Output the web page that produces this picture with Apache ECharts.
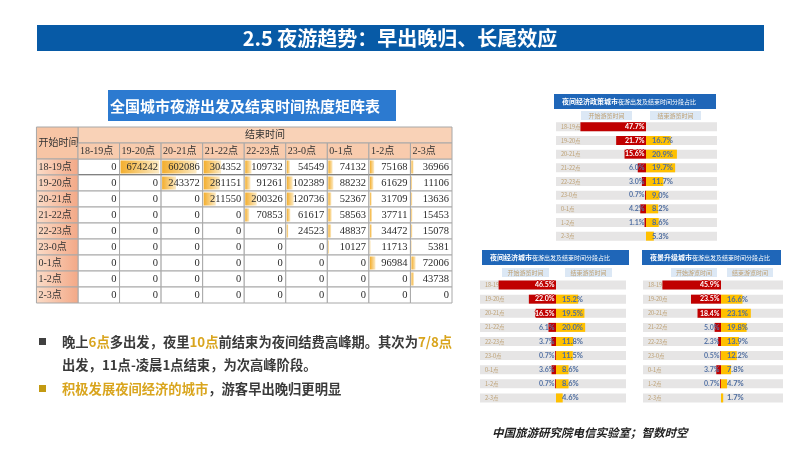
<!DOCTYPE html>
<html>
<head>
<meta charset="utf-8">
<script src="https://cdn.jsdelivr.net/npm/echarts@6/dist/echarts.min.js"></script>
<style>
html, body { margin: 0; padding: 0; background: #fff; }
#main { width: 800px; height: 450px; }
</style>
</head>
<body>
<div id="main"></div>
<script>
// 热度矩阵：开始时间 x 结束时间
var startTimes = ['18-19点', '19-20点', '20-21点', '21-22点', '22-23点', '23-0点', '0-1点', '1-2点', '2-3点'];
var endTimes = ['18-19点', '19-20点', '20-21点', '21-22点', '22-23点', '23-0点', '0-1点', '1-2点', '2-3点'];
var heat = [
    [0, 674242, 602086, 304352, 109732, 54549, 74132, 75168, 36966],
    [0, 0, 243372, 281151, 91261, 102389, 88232, 61629, 11106],
    [0, 0, 0, 211550, 200326, 120736, 52367, 31709, 13636],
    [0, 0, 0, 0, 70853, 61617, 58563, 37711, 15453],
    [0, 0, 0, 0, 0, 24523, 48837, 34472, 15078],
    [0, 0, 0, 0, 0, 0, 10127, 11713, 5381],
    [0, 0, 0, 0, 0, 0, 0, 96984, 72006],
    [0, 0, 0, 0, 0, 0, 0, 0, 43738],
    [0, 0, 0, 0, 0, 0, 0, 0, 0]
];

// 右侧三个分段占比图 (%)
var policyStart = [47.7, 21.7, 15.6, 6.0, 3.0, 0.7, 4.2, 1.1, null];
var policyEnd = [null, 16.7, 20.9, 19.7, 11.7, 9.0, 8.2, 8.6, 5.3];
var economyStart = [46.5, 22.0, 16.5, 6.1, 3.7, 0.7, 3.6, 0.7, null];
var economyEnd = [null, 15.2, 19.5, 20.0, 11.8, 11.5, 8.6, 8.6, 4.6];
var upgradeStart = [45.9, 23.5, 18.4, 5.0, 2.3, 0.5, 3.7, 0.7, null];
var upgradeEnd = [null, 16.6, 23.1, 19.8, 13.9, 12.2, 7.8, 4.7, 1.7];
var panelNames = [
    ['夜间经济政策城市', '夜游出发及结束时间分段占比'],
    ['夜间经济城市', '夜游出发及结束时间分段占比'],
    ['夜景升级城市', '夜游出发及结束时间分段占比']
];
var legendNames = ['开始游览时间', '结束游览时间'];

var panelStart = [policyStart, economyStart, upgradeStart];
var panelEnd = [policyEnd, economyEnd, upgradeEnd];

// 版面位置
var panelBox = [
    {rowL: 556, rowR: 717, mid: 646, top: 120, h: 123, lab: 24, leftMax: 48, tx: 554, ty: 94, tw: 162, th: 15, legX: [581, 650], legW: 51, legY: 111},
    {rowL: 480, rowR: 626, mid: 556, top: 278, h: 127, lab: 18, leftMax: 47, tx: 482, ty: 250, tw: 147, th: 15, legX: [502, 565], legW: 47, legY: 268},
    {rowL: 643, rowR: 783, mid: 721, top: 278, h: 127, lab: 18, leftMax: 47, tx: 642, ty: 250, tw: 139, th: 15, legX: [671, 727], legW: 46, legY: 268}
];

var heatMax = 674242;
var serifFont = '"Liberation Serif", "Noto Sans CJK SC"';
var cjkFont = '"Noto Sans CJK SC"';

var heatData = [];
heat.forEach(function (row, r) {
    row.forEach(function (v, c) {
        heatData.push([c, r, v]);
    });
});

function renderCell(params, api) {
    var c = api.value(0), r = api.value(1), v = api.value(2);
    var p = api.coord([c, r]);
    var s = api.size([1, 1]);
    var x0 = p[0] - s[0] / 2, y0 = p[1] - s[1] / 2;
    var kids = [{
        type: 'rect',
        shape: {x: x0, y: y0, width: s[0], height: s[1]},
        style: {fill: '#fff', stroke: '#A8A8A8', lineWidth: 1}
    }];
    if (v > 0) {
        kids.push({
            type: 'rect',
            shape: {x: x0 + 1, y: y0 + 1.5, width: (s[0] - 3) * v / heatMax, height: s[1] - 3},
            style: {
                fill: new echarts.graphic.LinearGradient(0, 0, 1, 0, [
                    {offset: 0, color: '#F3AE2E'},
                    {offset: 1, color: '#FCEBC6'}
                ])
            }
        });
    }
    if (r === 0) {
        kids.push({
            type: 'line',
            shape: {x1: x0, y1: y0 + s[1], x2: x0 + s[0], y2: y0 + s[1]},
            style: {stroke: '#333', lineWidth: 1.3}
        });
    }
    kids.push({
        type: 'text',
        style: {
            x: x0 + s[0] - 3, y: p[1] + 0.5, text: String(v),
            align: 'right', verticalAlign: 'middle',
            font: '10.5px ' + serifFont, fill: '#2a2a2a'
        }
    });
    return {type: 'group', children: kids};
}

function renderColHead(params, api) {
    var c = api.value(0);
    var p = api.coord([c, 0]);
    var s = api.size([1, 1]);
    var x0 = p[0] - s[0] / 2, y0 = p[1] - s[1] * 1.5;
    var kids = [];
    if (c === 0) {
        // 结束时间 横栏 + 开始时间 角格
        kids.push({
            type: 'rect',
            shape: {x: x0, y: y0 - s[1], width: s[0] * endTimes.length, height: s[1]},
            style: {fill: '#F9D2B7', stroke: '#A8A8A8', lineWidth: 1}
        });
        kids.push({
            type: 'text',
            style: {
                x: x0 + s[0] * endTimes.length / 2, y: y0 - s[1] / 2, text: '结束时间',
                align: 'center', verticalAlign: 'middle', font: '10px ' + serifFont, fill: '#333'
            }
        });
        kids.push({
            type: 'rect',
            shape: {x: x0 - s[0], y: y0 - s[1], width: s[0], height: s[1] * 2},
            style: {fill: '#F7C5A5', stroke: '#A8A8A8', lineWidth: 1}
        });
        kids.push({
            type: 'text',
            style: {
                x: x0 - s[0] + 2, y: y0, text: '开始时间',
                align: 'left', verticalAlign: 'middle', font: '10px ' + serifFont, fill: '#333'
            }
        });
    }
    kids.push({
        type: 'rect',
        shape: {x: x0, y: y0, width: s[0], height: s[1]},
        style: {fill: '#F8CBAD', stroke: '#A8A8A8', lineWidth: 1}
    });
    kids.push({
        type: 'text',
        style: {
            x: x0 + 2, y: y0 + s[1] / 2, text: endTimes[c],
            align: 'left', verticalAlign: 'middle', font: '10px ' + serifFont, fill: '#333'
        }
    });
    return {type: 'group', children: kids};
}

function renderRowHead(params, api) {
    var r = api.value(1);
    var p = api.coord([0, r]);
    var s = api.size([1, 1]);
    var x0 = p[0] - s[0] * 1.5, y0 = p[1] - s[1] / 2;
    return {
        type: 'group',
        children: [{
            type: 'rect',
            shape: {x: x0, y: y0, width: s[0], height: s[1]},
            style: {
                fill: new echarts.graphic.LinearGradient(0, 0, 1, 0, [
                    {offset: 0, color: '#FBDCC8'},
                    {offset: 1, color: '#F3A886'}
                ]),
                stroke: '#A8A8A8', lineWidth: 1
            }
        }, {
            type: 'text',
            style: {
                x: x0 + 2, y: p[1] + 0.5, text: startTimes[r],
                align: 'left', verticalAlign: 'middle', font: '10px ' + serifFont, fill: '#333'
            }
        }]
    };
}

var grids = [{left: 78, top: 159, width: 374, height: 144, outerBoundsMode: 'none'}];
var xAxes = [{gridIndex: 0, type: 'category', data: endTimes, show: false}];
var yAxes = [{gridIndex: 0, type: 'category', data: startTimes, inverse: true, show: false}];
var series = [
    {type: 'custom', xAxisIndex: 0, yAxisIndex: 0, data: heatData, renderItem: renderCell, silent: true},
    {type: 'custom', xAxisIndex: 0, yAxisIndex: 0, data: endTimes.map(function (t, i) { return [i, 0]; }), renderItem: renderColHead, silent: true},
    {type: 'custom', xAxisIndex: 0, yAxisIndex: 0, data: startTimes.map(function (t, i) { return [0, i]; }), renderItem: renderRowHead, silent: true}
];

var bodyRich = {
    a: {fill: '#3A3A3A', color: '#3A3A3A', fontSize: 13.3, fontWeight: 'bold', fontFamily: cjkFont},
    h: {fill: '#D9A51E', color: '#D9A51E', fontSize: 13.3, fontWeight: 'bold', fontFamily: cjkFont}
};

var graphic = [
    // 页面标题
    {type: 'rect', left: 37, top: 25, shape: {width: 727, height: 26}, style: {fill: '#075AA6'}},
    {type: 'text', x: 400, y: 38.5, style: {text: '2.5 夜游趋势：早出晚归、长尾效应', align: 'center', verticalAlign: 'middle', font: 'bold 20px ' + cjkFont, fill: '#fff'}},
    // 矩阵表标题
    {type: 'rect', left: 108, top: 90, shape: {width: 288, height: 31}, style: {fill: '#2C7AD0'}},
    {type: 'text', x: 110, y: 106, style: {text: '全国城市夜游出发及结束时间热度矩阵表', align: 'left', verticalAlign: 'middle', font: 'bold 15px ' + cjkFont, fill: '#fff'}},
    // 结论
    {type: 'rect', left: 39, top: 338, shape: {width: 7, height: 7}, style: {fill: '#404040'}},
    {type: 'text', x: 62, y: 342, style: {
        text: '{a|晚上}{h|6点}{a|多出发，夜里}{h|10点}{a|前结束为夜间结费高峰期。其次为}{h|7/8点}',
        verticalAlign: 'middle', rich: bodyRich
    }},
    {type: 'text', x: 62, y: 365, style: {text: '出发，11点-凌晨1点结束，为次高峰阶段。', verticalAlign: 'middle', font: 'bold 13.3px ' + cjkFont, fill: '#3A3A3A'}},
    {type: 'rect', left: 39, top: 385, shape: {width: 7, height: 7}, style: {fill: '#C39A12'}},
    {type: 'text', x: 62, y: 389, style: {
        text: '{h|积极发展夜间经济的城市}{a|，游客早出晚归更明显}',
        verticalAlign: 'middle', rich: bodyRich
    }},
    // 数据来源
    {type: 'text', x: 492, y: 433, style: {text: '中国旅游研究院电信实验室；智数时空', verticalAlign: 'middle', font: 'italic bold 11.5px ' + cjkFont, fill: '#222'}}
];

panelBox.forEach(function (L, k) {
    var gb = grids.length, gl = gb + 1, gr = gb + 2;
    grids.push({left: L.rowL, top: L.top, width: L.rowR - L.rowL, height: L.h, outerBoundsMode: 'none'});
    grids.push({left: L.rowL + L.lab, top: L.top, width: L.mid - L.rowL - L.lab, height: L.h, outerBoundsMode: 'none'});
    grids.push({left: L.mid, top: L.top, width: L.rowR - L.mid, height: L.h, outerBoundsMode: 'none'});

    xAxes.push({gridIndex: gb, type: 'value', min: 0, max: 1, show: false});
    xAxes.push({gridIndex: gl, type: 'value', min: 0, max: L.leftMax, inverse: true, show: false});
    xAxes.push({gridIndex: gr, type: 'value', min: 0, max: 48, show: false});

    yAxes.push({
        gridIndex: gb, type: 'category', data: startTimes, inverse: true, z: 1,
        axisLine: {show: false}, axisTick: {show: false}, splitLine: {show: false},
        axisLabel: {inside: true, margin: 5, color: '#BDA073', fontSize: 5.5, fontFamily: cjkFont}
    });
    yAxes.push({gridIndex: gl, type: 'category', data: startTimes, inverse: true, show: false});
    yAxes.push({gridIndex: gr, type: 'category', data: startTimes, inverse: true, show: false});

    series.push({
        type: 'bar', xAxisIndex: gb, yAxisIndex: gb, barWidth: 9, silent: true, z: 0,
        data: startTimes.map(function () { return 0; }),
        showBackground: true, backgroundStyle: {color: '#E6E5E5'}
    });
    series.push({
        type: 'bar', xAxisIndex: gl, yAxisIndex: gl, barWidth: 9, silent: true, z: 3,
        itemStyle: {color: '#C00000'},
        data: panelStart[k].map(function (v) {
            if (v == null) return '-';
            var big = v >= 15;
            return {value: v, label: {
                color: big ? '#fff' : '#5573A5',
                textBorderColor: big ? '#C00000' : 'transparent',
                textBorderWidth: big ? 1.5 : 0
            }};
        }),
        label: {
            show: true, position: 'insideRight', distance: 1.5,
            fontSize: 7, fontWeight: 'bold', fontFamily: 'Lato',
            formatter: function (p) { return p.value.toFixed(1) + '%'; }
        }
    });
    series.push({
        type: 'bar', xAxisIndex: gr, yAxisIndex: gr, barWidth: 9, silent: true, z: 3,
        itemStyle: {color: '#FFC000'},
        data: panelEnd[k].map(function (v) { return v == null ? '-' : v; }),
        label: {
            show: true, position: 'insideLeft', distance: 6, color: '#4D6C9E',
            fontSize: 7.5, fontWeight: 'bold', fontFamily: 'Lato',
            formatter: function (p) { return p.value.toFixed(1) + '%'; }
        }
    });

    // 小标题与图例
    graphic.push({type: 'rect', left: L.tx, top: L.ty, shape: {width: L.tw, height: L.th}, style: {fill: '#1F66B8'}});
    graphic.push({type: 'text', x: L.tx + 8, y: L.ty + L.th / 2, style: {
        text: '{b|' + panelNames[k][0] + '}{s|' + panelNames[k][1] + '}',
        verticalAlign: 'middle',
        rich: {
            b: {fill: '#fff', color: '#fff', fontSize: 7, fontWeight: 'bold', fontFamily: cjkFont},
            s: {fill: '#fff', color: '#fff', fontSize: 6, fontFamily: cjkFont}
        }
    }});
    legendNames.forEach(function (name, j) {
        graphic.push({type: 'rect', left: L.legX[j], top: L.legY, shape: {width: L.legW, height: 9}, style: {fill: '#DCE8F5'}});
        graphic.push({type: 'text', x: L.legX[j] + L.legW / 2, y: L.legY + 4.5, style: {
            text: name, align: 'center', verticalAlign: 'middle', font: '6px ' + cjkFont, fill: '#BFA276'
        }});
    });
});

var chart = echarts.init(document.getElementById('main'));
chart.setOption({
    animation: false,
    grid: grids,
    xAxis: xAxes,
    yAxis: yAxes,
    series: series,
    graphic: graphic
});
</script>
</body>
</html>
